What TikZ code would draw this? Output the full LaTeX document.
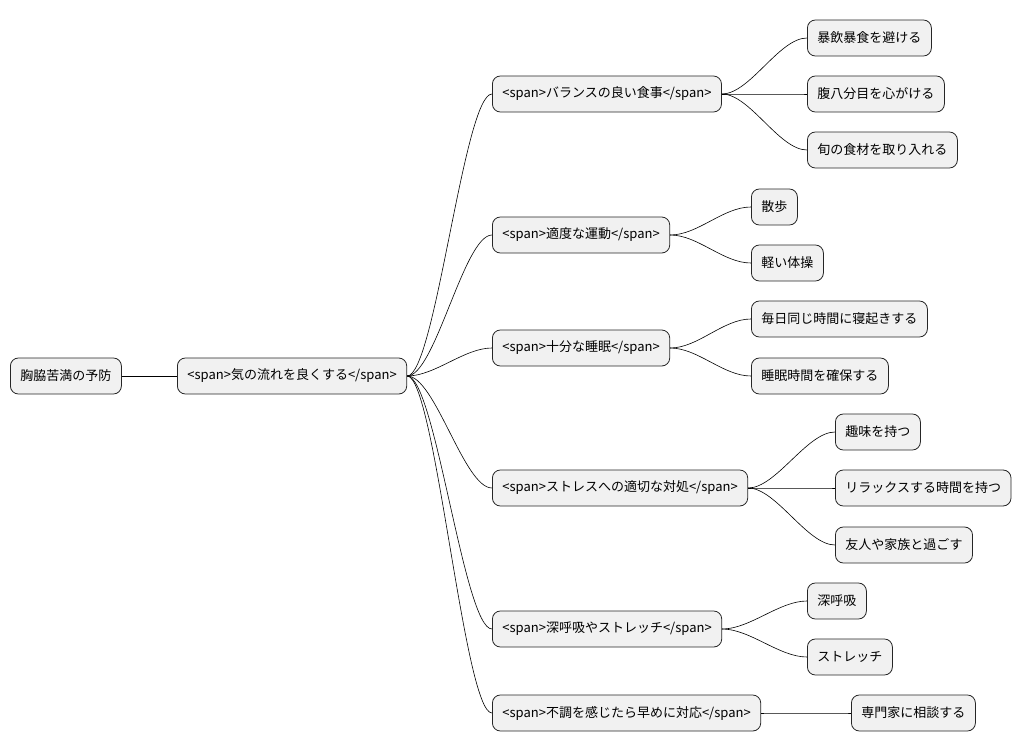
\documentclass[tikz,border=0pt]{standalone}
\usepackage{fontspec}
\setmainfont{Noto Sans CJK JP}
\begin{document}
\begin{tikzpicture}[x=1pt,y=-1pt,
  box/.style={draw=black!85,fill={rgb,255:red,241;green,241;blue,241},rounded corners=8pt,line width=0.8pt,anchor=west,minimum height=36pt,inner xsep=10pt,font=\fontsize{13}{15}\selectfont},
  lk/.style={draw=black,line width=0.6pt},
  every path/.style={}]
\useasboundingbox (0,0) rectangle (1034,752);
\node[box] (r) at (10,376) {胸脇苦満の予防};
\node[box] (k) at (177,376) {<span>気の流れを良くする</span>};
\node[box] (a) at (492,94) {<span>バランスの良い食事</span>};
\node[box] (b) at (492,235) {<span>適度な運動</span>};
\node[box] (c) at (492,348) {<span>十分な睡眠</span>};
\node[box] (d) at (492,488) {<span>ストレスへの適切な対処</span>};
\node[box] (e) at (492,629) {<span>深呼吸やストレッチ</span>};
\node[box] (f) at (492,713) {<span>不調を感じたら早めに対応</span>};
\node[box] (a1) at (807,38) {暴飲暴食を避ける};
\node[box] (a2) at (807,94) {腹八分目を心がける};
\node[box] (a3) at (807,150) {旬の食材を取り入れる};
\node[box] (b1) at (751,207) {散歩};
\node[box] (b2) at (751,263) {軽い体操};
\node[box] (c1) at (751,319) {毎日同じ時間に寝起きする};
\node[box] (c2) at (751,376) {睡眠時間を確保する};
\node[box] (d1) at (835,432) {趣味を持つ};
\node[box] (d2) at (835,488) {リラックスする時間を持つ};
\node[box] (d3) at (835,545) {友人や家族と過ごす};
\node[box] (e1) at (807,601) {深呼吸};
\node[box] (e2) at (807,657) {ストレッチ};
\node[box] (f1) at (851,713) {専門家に相談する};
\draw[lk] (r.east) -- (k.west);
\foreach \p/\c in {k/a,k/b,k/c,k/d,k/e,k/f,a/a1,a/a2,a/a3,b/b1,b/b2,c/c1,c/c2,d/d1,d/d2,d/d3,e/e1,e/e2,f/f1}
  \draw[lk] (\p.east) .. controls +(28,0) and +(-28,0) .. (\c.west);
\end{tikzpicture}
\end{document}
